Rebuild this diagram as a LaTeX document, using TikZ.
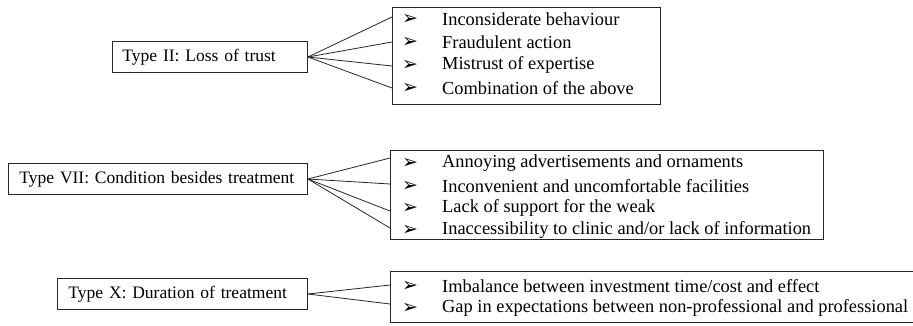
\documentclass[tikz,border=0pt]{standalone}
\usepackage{fontspec}
\setmainfont{Liberation Serif}
\newfontfamily\bulletfont{DejaVu Sans}
\begin{document}
\begin{tikzpicture}[x=1pt,y=-1pt,
  every node/.style={font=\fontsize{18.4}{23}\selectfont},
  typebox/.style={draw=black!85, line width=0.9pt, align=left, inner xsep=10pt, inner ysep=0pt, minimum height=31pt, anchor=west, font=\fontsize{17.5}{22}\selectfont},
  listbox/.style={draw=black!85, line width=0.9pt, inner sep=0pt, anchor=north west},
  bul/.style={anchor=west, inner sep=0pt, font=\bulletfont\fontsize{19}{19}\selectfont},
  item/.style={anchor=west, inner sep=0pt},
  conn/.style={draw=black!85, line width=0.8pt}]
\useasboundingbox (0,0) rectangle (913,325);
\clip (0,0) rectangle (913,325);
% ---------- Group 1 ----------
\node[typebox, text width=175pt] (t2) at (112,57) {Type II: Loss of trust};
\node[listbox, minimum width=268pt, minimum height=97pt] (b2) at (392,7) {};
\foreach \y/\t [count=\i] in {19/{Inconsiderate behaviour},42/{Fraudulent action},65/{Mistrust of expertise},88/{Combination of the above}}{
  \node[bul] (b2bul\i) at (402,\y) {➢};
  \node[item] (b2it\i) at (442,\y) {\t};
}
\coordinate (e21) at (392,17);
\coordinate (e22) at (392,42);
\coordinate (e23) at (392,66);
\coordinate (e24) at (392,88);
\foreach \i in {1,...,4}{\draw[conn] (t2.east) -- (e2\i);}
% ---------- Group 2 ----------
\node[typebox, inner xsep=11pt, text width=277pt] (t7) at (8,179) {Type VII: Condition besides treatment};
\node[listbox, minimum width=433pt, minimum height=89pt] (b7) at (390,150) {};
\foreach \y/\t [count=\i] in {163/{Annoying advertisements and ornaments},186/{Inconvenient and uncomfortable facilities},208/{Lack of support for the weak},230/{Inaccessibility to clinic and/or lack of information}}{
  \node[bul] (b7bul\i) at (402,\y) {➢};
  \node[item] (b7it\i) at (442,\y) {\t};
}
\coordinate (e71) at (390,158);
\coordinate (e72) at (390,184);
\coordinate (e73) at (390,211);
\coordinate (e74) at (390,228);
\foreach \i in {1,...,4}{\draw[conn] (t7.east) -- (e7\i);}
% ---------- Group 3 ----------
\node[typebox, inner xsep=11pt, text width=228pt] (t10) at (57,294) {Type X: Duration of treatment};
\node[listbox, minimum width=560pt, minimum height=51pt] (b10) at (390,271) {};
\foreach \y/\t [count=\i] in {286/{Imbalance between investment time/cost and effect},308/{Gap in expectations between non-professional and professional}}{
  \node[bul] (b10bul\i) at (402,\y) {➢};
  \node[item] (b10it\i) at (442,\y) {\t};
}
\coordinate (e101) at (390,285);
\coordinate (e102) at (390,304);
\foreach \i in {1,2}{\draw[conn] (t10.east) -- (e10\i);}
\end{tikzpicture}
\end{document}
